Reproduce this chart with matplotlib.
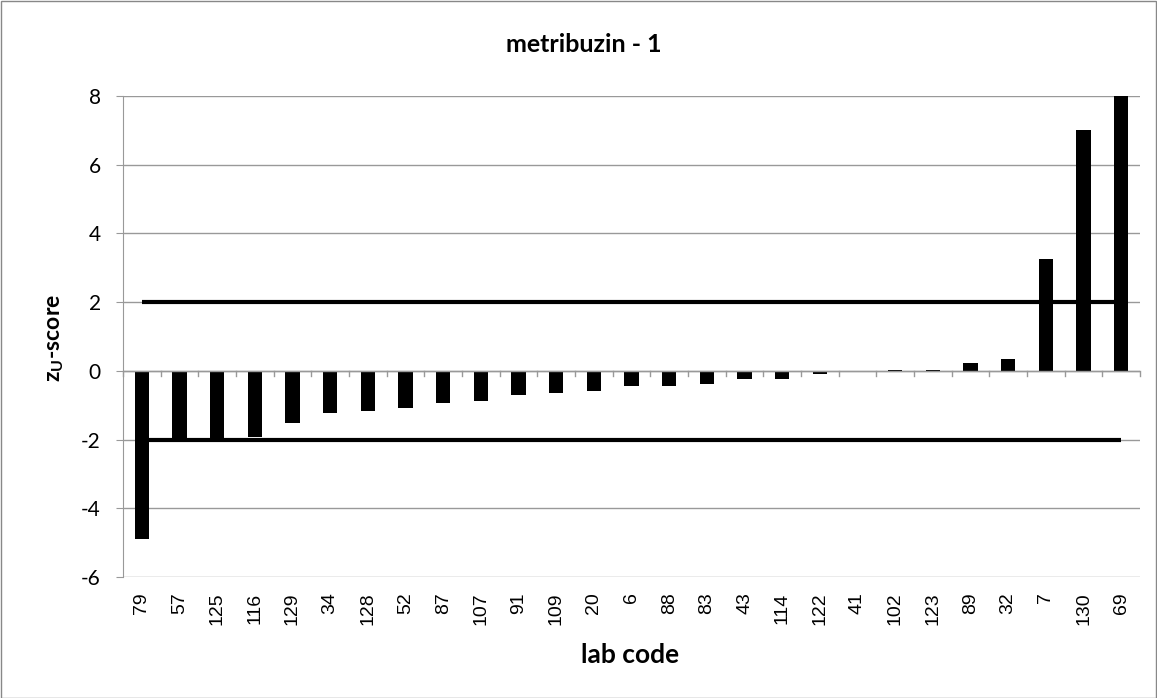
import matplotlib
matplotlib.use('Agg')
import matplotlib.pyplot as plt
from matplotlib.patches import Rectangle
import numpy as np

labs = ['79', '57', '125', '116', '129', '34', '128', '52', '87', '107', '91', '109', '20',
        '6', '88', '83', '43', '114', '122', '41', '102', '123', '89', '32', '7', '130', '69']
zu = [-4.9, -2.08, -1.98, -1.93, -1.52, -1.24, -1.18, -1.09, -0.95, -0.88, -0.70, -0.65, -0.59,
      -0.45, -0.45, -0.39, -0.25, -0.25, -0.10, -0.02, 0.03, 0.03, 0.22, 0.35, 3.25, 7.0, 8.3]
limits = [2, -2]
yticks = [-6, -4, -2, 0, 2, 4, 6, 8]

W, H = 1157, 698
fig = plt.figure(figsize=(W / 100, H / 100), dpi=100)
fig.patches.append(Rectangle((0.5 / W, 0.5 / H), 1 - 1.5 / W, 1 - 1.5 / H, transform=fig.transFigure,
                             fill=False, edgecolor='#888888', lw=1))
ax = fig.add_axes([123 / W, 1 - 577 / H, (1140 - 123) / W, (577 - 96) / H])

x = np.arange(len(labs))
ax.bar(x, zu, width=0.38, color='black', zorder=3)
for v in limits:
    ax.plot([x[0], x[-1]], [v, v], color='black', lw=3, zorder=2, solid_capstyle='butt')

ax.set_xlim(-0.5, len(labs) - 0.5)
ax.set_ylim(-6, 8)
ax.set_yticks(yticks)
ax.set_yticklabels([str(t) for t in yticks], fontfamily='Lato', fontsize=15)
ax.grid(axis='y', color='#999999', lw=1, zorder=0)
ax.tick_params(axis='y', length=5, color='#999999', pad=11)

# category axis sits at zero, labels at the bottom
ax.axhline(0, color='#999999', lw=1, zorder=4)
ax.set_xticks([])
for b in np.arange(-0.5, len(labs), 1.0):
    ax.plot([b, b], [0, -0.15], color='#999999', lw=1, zorder=4, clip_on=False)
for i, lab in enumerate(labs):
    ax.text(i, -6.45, lab, rotation=90, ha='center', va='top', fontsize=14,
            fontfamily='Liberation Sans')

for s in ['top', 'right', 'bottom']:
    ax.spines[s].set_visible(False)
ax.spines['left'].set_color('#999999')

fig.text(584 / W, 1 - 45 / H, 'metribuzin - 1', ha='center', va='center', fontfamily='Lato',
         fontweight='bold', fontsize=18)
fig.text(630 / W, 1 - 655 / H, 'lab code', ha='center', va='center', fontfamily='Lato',
         fontweight='bold', fontsize=19)
fig.text(55 / W, 1 - 338 / H, r'z$_\mathregular{U}$-score', rotation=90, ha='center', va='center',
         fontfamily='Lato', fontweight='bold', fontsize=16.5)

fig.savefig('out.png', dpi=100)
